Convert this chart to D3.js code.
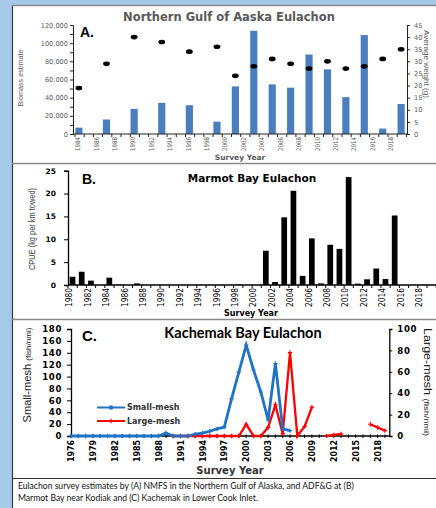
<!DOCTYPE html>
<html>
<head>
<meta charset="utf-8">
<script src="https://cdn.jsdelivr.net/npm/d3@7"></script>
<style>
	body { margin: 0; background: #fff; }
	svg { display: block; }
</style>
</head>
<body>
<svg id="chart" width="436" height="508"></svg>
<script>
// A. Northern Gulf of Alaska (NMFS)
var gulfYears = [1984, 1987, 1990, 1993, 1996, 1999, 2001, 2003, 2005, 2007, 2009, 2011, 2013, 2015, 2017, 2019];
var gulfBiomass = [7000, 16000, 27700, 34300, 31700, 13600, 52400, 113700, 54600, 51000, 87500, 71200, 40600, 108900, 6000, 33000];
var gulfWeight = [19, 29, 40, 38, 34, 36, 24, 28, 31, 29, 27, 30, 27, 28, 31, 35];

// B. Marmot Bay (ADF&G)
var marmotYears = [1980, 1981, 1982, 1983, 1984, 1985, 1986, 1987, 1988, 1989, 1990, 1991, 1992, 1993, 1994, 1995, 1996, 1997,
	1998, 1999, 2000, 2001, 2002, 2003, 2004, 2005, 2006, 2007, 2008, 2009, 2010, 2011, 2012, 2013, 2014, 2015];
var marmotCpue = [1.8, 2.9, 0.95, 0, 1.6, 0.1, 0, 0.35, 0, 0, 0, 0, 0, 0, 0, 0, 0, 0,
	0.1, 0, 0, 7.5, 0.65, 14.8, 20.6, 2.0, 10.2, 0.35, 8.8, 7.9, 23.6, 0.3, 1.25, 3.6, 1.3, 15.2];

// C. Kachemak Bay (ADF&G), null = no survey
var kachYears = [1976, 1977, 1978, 1979, 1980, 1981, 1982, 1983, 1984, 1985, 1986, 1987, 1988, 1989, 1990, 1991, 1992, 1993,
	1994, 1995, 1996, 1997, 1998, 1999, 2000, 2001, 2002, 2003, 2004, 2005, 2006, 2007, 2008, 2009, 2010, 2011, 2012, 2013,
	2014, 2015, 2016, 2017, 2018, 2019];
var smallMesh = [0, 0, 0, 0, 0, 0, 0, 0, 0, 0, 0, 0, 0, 5, 0, 0, 0, 3,
	5, 8, 12, 15, 63, 108, 153, 111, 74, 27, 122, 12, 9, null, null, null, null, null, null, null,
	null, null, null, null, null, null];
var largeMesh = [null, null, null, null, null, null, null, null, null, null, null, null, null, null, 0, 0, 0, 0,
	0, 0, 0, 0, 0, 0, 11, 0, 0, 8, 29, 2, 78, 0, 9, 27, null, 0, 1, 2,
	null, null, null, 11, 8, 5];

var captionLines = [
	"Eulachon survey estimates by (A) NMFS in the Northern Gulf of Alaska, and ADF&G at (B)",
	"Marmot Bay near Kodiak and (C) Kachemak in Lower Cook Inlet."
];

var W = 436, H = 508;
var svg = d3.select("#chart");
var gray = "#595959";
var wide = "'DejaVu Sans', Verdana, sans-serif";

// Page background and panel frame
svg.append("rect").attr("width", W).attr("height", H).attr("fill", "#a6c9ea");
svg.append("rect").attr("x", 12).attr("y", 5).attr("width", W - 12).attr("height", H - 5).attr("fill", "#fff");
svg.append("line").attr("x1", 12.5).attr("x2", 12.5).attr("y1", 5).attr("y2", H)
	.attr("stroke", "#3a3a3a").attr("stroke-width", 1.2);
[5.5, 163.5, 319.5, 478.5].forEach(function(y, i) {
	svg.append("line").attr("x1", 12).attr("x2", W).attr("y1", y).attr("y2", y)
		.attr("stroke", i == 3 ? "#333" : "#8a8a8a").attr("stroke-width", i == 3 ? 1.2 : 1.5);
});

// Helper: rotated year labels
function yearLabels(g, scale, years, y, len, size, color, bold, dx) {
	g.selectAll(null)
		.data(years)
		.enter()
		.append("text")
		.attr("transform", function(d) { return "translate(" + (scale(d) + dx) + "," + y + ") rotate(-90)"; })
		.attr("text-anchor", "end")
		.attr("dy", "0.35em")
		.attr("textLength", len)
		.attr("lengthAdjust", "spacingAndGlyphs")
		.style("font-family", "'Liberation Sans Narrow', 'DejaVu Sans Condensed', sans-serif")
		.style("font-size", size + "px")
		.style("font-weight", bold ? "bold" : "normal")
		.style("fill", color)
		.text(function(d) { return d; });
}

function styleAxis(g, color) {
	g.select(".domain").attr("stroke", color);
	g.selectAll(".tick line").attr("stroke", color);
}

/********** Panel A **********/
var gA = svg.append("g");
var xA = d3.scaleBand().domain(d3.range(1984, 2020)).range([73, 407]).paddingInner(0.22).paddingOuter(0.25);
var yA = d3.scaleLinear().domain([0, 120000]).range([134, 25]);
var yA2 = d3.scaleLinear().domain([0, 45]).range([134, 25]);

gA.selectAll(".barA")
	.data(gulfYears)
	.enter()
	.append("rect")
	.attr("class", "barA")
	.attr("x", function(d) { return xA(d); })
	.attr("width", xA.bandwidth())
	.attr("y", function(d, i) { return yA(gulfBiomass[i]); })
	.attr("height", function(d, i) { return yA(0) - yA(gulfBiomass[i]); })
	.attr("fill", "#4a7ebf");

gA.selectAll(".dotA")
	.data(gulfYears)
	.enter()
	.append("ellipse")
	.attr("cx", function(d) { return xA(d) + xA.bandwidth() / 2; })
	.attr("cy", function(d, i) { return yA2(gulfWeight[i]); })
	.attr("rx", 3.4)
	.attr("ry", 2.3)
	.attr("fill", "#000");

// minor ticks every 10,000, labels every 20,000
var axA = gA.append("g").attr("transform", "translate(73,0)")
	.call(d3.axisLeft(yA).tickValues(d3.range(0, 120001, 10000)).tickSize(3)
		.tickFormat(function(d) { return d % 20000 == 0 ? d3.format(",")(d) : ""; }).tickPadding(2));
styleAxis(axA, "#222");
axA.selectAll("text").style("font-family", wide).style("font-size", "6.6px").style("fill", gray);

var axA2 = gA.append("g").attr("transform", "translate(407,0)")
	.call(d3.axisRight(yA2).tickValues(d3.range(0, 46, 5)).tickSize(3).tickPadding(4));
styleAxis(axA2, "#222");
axA2.selectAll("text").style("font-family", wide).style("font-size", "6.6px").style("fill", gray);

var axA3 = gA.append("g").attr("transform", "translate(0,134)");
axA3.append("line").attr("x1", 73).attr("x2", 407).attr("stroke", "#222");
axA3.selectAll(null)
	.data(d3.range(1984, 2021))
	.enter()
	.append("line")
	.attr("x1", function(d) { return 73 + (d - 1984) * xA.step() + 2; })
	.attr("x2", function(d) { return 73 + (d - 1984) * xA.step() + 2; })
	.attr("y2", 3)
	.attr("stroke", "#222");
yearLabels(gA, function(d) { return xA(d) + xA.bandwidth() / 2; }, d3.range(1984, 2019, 2), 137, 14, 6.5, gray, false, -1);

gA.append("text").attr("x", 80).attr("y", 37)
	.style("font-family", "'Liberation Sans', Arial, sans-serif").style("font-weight", "bold").style("font-size", "14px")
	.text("A.");
gA.append("text").attr("x", 229).attr("y", 21).attr("text-anchor", "middle")
	.style("font-family", wide).style("font-weight", "bold").style("font-size", "11.5px").style("fill", gray)
	.text("Northern Gulf of Aaska Eulachon");
gA.append("text").attr("x", 240).attr("y", 160).attr("text-anchor", "middle")
	.style("font-family", wide).style("font-weight", "bold").style("font-size", "7.5px").style("fill", gray)
	.text("Survey Year");
gA.append("text").attr("transform", "translate(23,78) rotate(-90)").attr("text-anchor", "middle")
	.attr("textLength", 57).attr("lengthAdjust", "spacingAndGlyphs")
	.style("font-family", "'Liberation Sans Narrow', sans-serif").style("font-size", "8px").style("fill", gray)
	.text("Biomass estimate");
gA.append("text").attr("transform", "translate(424,64) rotate(90)").attr("text-anchor", "middle")
	.attr("textLength", 68).attr("lengthAdjust", "spacingAndGlyphs")
	.style("font-family", "'Liberation Sans Narrow', sans-serif").style("font-size", "8px").style("fill", gray)
	.text("Average weight (g)");

/********** Panel B **********/
var gB = svg.append("g");
var xB = d3.scaleBand().domain(d3.range(1980, 2021)).range([68, 68 + 41 * 9.2]).paddingInner(0.38).paddingOuter(0.18);
var yB = d3.scaleLinear().domain([0, 25]).range([285, 170.7]);

gB.selectAll(".barB")
	.data(marmotYears)
	.enter()
	.append("rect")
	.attr("x", function(d) { return xB(d); })
	.attr("width", xB.bandwidth())
	.attr("y", function(d, i) { return yB(marmotCpue[i]); })
	.attr("height", function(d, i) { return yB(0) - yB(marmotCpue[i]); })
	.attr("fill", "#000");

var axB = gB.append("g").attr("transform", "translate(68,0)")
	.call(d3.axisLeft(yB).tickValues(d3.range(0, 26, 5)).tickSize(4).tickPadding(8));
styleAxis(axB, "#000");
axB.select(".domain").attr("stroke-width", 1.3);
axB.selectAll("text").style("font-family", wide).style("font-weight", "bold").style("font-size", "7.5px").style("fill", "#000");

var axB2 = gB.append("g").attr("transform", "translate(0,285)");
axB2.append("line").attr("x1", 68).attr("x2", W).attr("stroke", "#000").attr("stroke-width", 1.3);
axB2.selectAll(null)
	.data(d3.range(1980, 2021))
	.enter()
	.append("line")
	.attr("x1", function(d) { return 68 + (d - 1980) * xB.step(); })
	.attr("x2", function(d) { return 68 + (d - 1980) * xB.step(); })
	.attr("y2", 3)
	.attr("stroke", "#000");
yearLabels(gB, function(d) { return xB(d) + xB.bandwidth() / 2; }, d3.range(1980, 2019, 2), 288, 19, 8, "#000", false, -3);

gB.append("text").attr("x", 82).attr("y", 184)
	.style("font-family", "'Liberation Sans', Arial, sans-serif").style("font-weight", "bold").style("font-size", "14px")
	.text("B.");
gB.append("text").attr("x", 252).attr("y", 182).attr("text-anchor", "middle")
	.style("font-family", wide).style("font-weight", "bold").style("font-size", "10.5px").style("fill", "#000")
	.text("Marmot Bay Eulachon");
gB.append("text").attr("x", 251).attr("y", 316).attr("text-anchor", "middle")
	.style("font-family", wide).style("font-weight", "bold").style("font-size", "8px").style("fill", "#000")
	.text("Survey Year");
gB.append("text").attr("transform", "translate(32,229) rotate(-90)").attr("text-anchor", "middle").attr("dy", "0.35em")
	.attr("textLength", 82).attr("lengthAdjust", "spacingAndGlyphs")
	.style("font-family", "'Liberation Sans Narrow', sans-serif").style("font-size", "8.5px").style("fill", "#404040")
	.text("CPUE (kg per km towed)");

/********** Panel C **********/
var gC = svg.append("g");
var xC = d3.scaleLinear().domain([1976, 2019.6]).range([71, 389.3]);
var yC = d3.scaleLinear().domain([0, 180]).range([436, 329]);
var yC2 = d3.scaleLinear().domain([0, 100]).range([436, 329]);

var axC = gC.append("g").attr("transform", "translate(71,0)")
	.call(d3.axisLeft(yC).tickValues(d3.range(0, 181, 20)).tickSize(4).tickPadding(5));
styleAxis(axC, "#000");
axC.select(".domain").attr("stroke-width", 1.3);
axC.selectAll("text").style("font-family", wide).style("font-weight", "bold").style("font-size", "8.6px")
	.style("letter-spacing", "0.6px").style("fill", "#000");

var axC2 = gC.append("g").attr("transform", "translate(389.3,0)")
	.call(d3.axisRight(yC2).tickValues(d3.range(0, 101, 20)).tickSize(3).tickPadding(5));
styleAxis(axC2, "#000");
axC2.select(".domain").attr("stroke-width", 1.3);
axC2.selectAll("text").style("font-family", wide).style("font-weight", "bold").style("font-size", "8.6px")
	.style("letter-spacing", "0.6px").style("fill", "#000");

var axC3 = gC.append("g").attr("transform", "translate(0,436)");
axC3.append("line").attr("x1", 71).attr("x2", 389.3).attr("stroke", "#000").attr("stroke-width", 1.3);
axC3.selectAll(null)
	.data(kachYears)
	.enter()
	.append("line")
	.attr("x1", function(d) { return xC(d); })
	.attr("x2", function(d) { return xC(d); })
	.attr("y1", -1.5)
	.attr("y2", 2)
	.attr("stroke", "#000");
yearLabels(gC, xC, d3.range(1976, 2019, 3), 440, 22, 9, "#000", true, 0);

var lineSmall = d3.line()
	.defined(function(d) { return d[1] != null; })
	.x(function(d) { return xC(d[0]); })
	.y(function(d) { return yC(d[1]); });
var lineLarge = d3.line()
	.defined(function(d) { return d[1] != null; })
	.x(function(d) { return xC(d[0]); })
	.y(function(d) { return yC2(d[1]); });

var smallPts = kachYears.map(function(y, i) { return [y, smallMesh[i]]; });
var largePts = kachYears.map(function(y, i) { return [y, largeMesh[i]]; });
var blue = "#1f73c6", red = "#ff0000";

gC.append("path").datum(largePts).attr("d", lineLarge)
	.attr("fill", "none").attr("stroke", red).attr("stroke-width", 2.3);
gC.append("path").datum(smallPts).attr("d", lineSmall)
	.attr("fill", "none").attr("stroke", blue).attr("stroke-width", 2.8);

var plus = "M-2.2,0H2.2M0,-2.2V2.2";
gC.selectAll(".mkL")
	.data(largePts.filter(function(d) { return d[1] != null; }))
	.enter()
	.append("path")
	.attr("d", plus)
	.attr("transform", function(d) { return "translate(" + xC(d[0]) + "," + yC2(d[1]) + ")"; })
	.attr("stroke", red).attr("stroke-width", 1.2);
gC.selectAll(".mkS")
	.data(smallPts.filter(function(d) { return d[1] != null; }))
	.enter()
	.append("path")
	.attr("d", plus)
	.attr("transform", function(d) { return "translate(" + xC(d[0]) + "," + yC(d[1]) + ")"; })
	.attr("stroke", blue).attr("stroke-width", 1.2);

// Legend
var legend = [["Small-mesh", blue, 407.5], ["Large-mesh", red, 421]];
legend.forEach(function(l, i) {
	gC.append("line").attr("x1", 97).attr("x2", 125).attr("y1", l[2]).attr("y2", l[2])
		.attr("stroke", l[1]).attr("stroke-width", 2);
	if (i == 0)
		gC.append("circle").attr("cx", 111).attr("cy", l[2]).attr("r", 2.2).attr("fill", l[1]);
	else
		gC.append("path").attr("d", plus).attr("transform", "translate(111," + l[2] + ")").attr("stroke", l[1]).attr("stroke-width", 1.2);
	gC.append("text").attr("x", 127).attr("y", l[2]).attr("dy", "0.35em")
		.style("font-family", wide).style("font-weight", "bold").style("font-size", "8px").style("fill", "#333")
		.text(l[0]);
});

gC.append("text").attr("x", 82).attr("y", 341)
	.style("font-family", "'Liberation Sans', Arial, sans-serif").style("font-weight", "bold").style("font-size", "15px")
	.text("C.");
gC.append("text").attr("x", 243).attr("y", 338).attr("text-anchor", "middle")
	.style("font-family", "Lato, sans-serif").style("font-weight", "bold").style("font-size", "14.5px").style("fill", "#000")
	.text("Kachemak Bay Eulachon");
gC.append("text").attr("x", 230).attr("y", 474).attr("text-anchor", "middle")
	.style("font-family", wide).style("font-weight", "bold").style("font-size", "10px").style("fill", "#333")
	.text("Survey Year");

var tC = gC.append("text").attr("transform", "translate(25,375) rotate(-90)").attr("text-anchor", "middle").attr("dy", "0.35em")
	.attr("textLength", 95).attr("lengthAdjust", "spacingAndGlyphs")
	.style("font-family", "'Liberation Sans Narrow', sans-serif").style("fill", "#222");
tC.append("tspan").style("font-size", "11px").text("Small-mesh ");
tC.append("tspan").style("font-size", "8px").text("(fish/nmi)");

var tC2 = gC.append("text").attr("transform", "translate(430,382) rotate(90)").attr("text-anchor", "middle").attr("dy", "0.35em")
	.attr("textLength", 108).attr("lengthAdjust", "spacingAndGlyphs")
	.style("font-family", "'Liberation Sans Narrow', sans-serif").style("fill", "#222");
tC2.append("tspan").style("font-size", "11px").text("Large-mesh ");
tC2.append("tspan").style("font-size", "8px").text("(fish/nmi)");

/********** Caption **********/
svg.selectAll(".cap")
	.data(captionLines)
	.enter()
	.append("text")
	.attr("x", 18)
	.attr("y", function(d, i) { return 488.5 + i * 12.8; })
	.style("font-family", "Lato, 'Open Sans', sans-serif")
	.style("font-size", "8.6px")
	.style("fill", "#111")
	.text(function(d) { return d; });
</script>
</body>
</html>
